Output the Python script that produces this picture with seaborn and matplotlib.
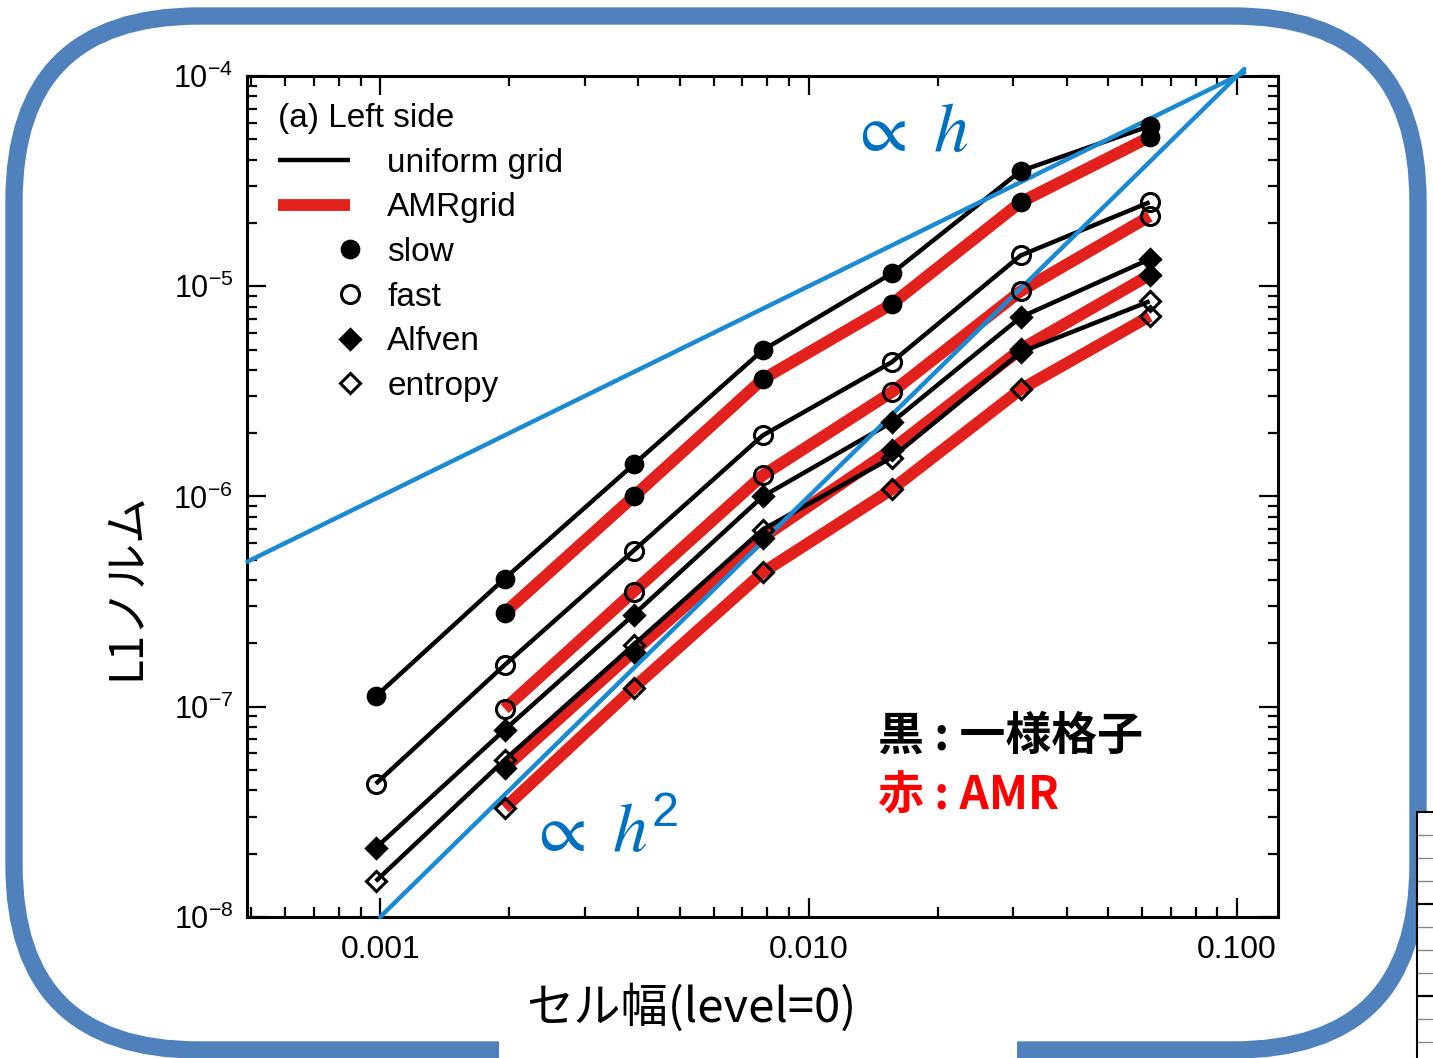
import numpy as np
import seaborn as sns
import matplotlib
matplotlib.use("Agg")
import matplotlib.pyplot as plt
from matplotlib.lines import Line2D
from matplotlib.legend_handler import HandlerLine2D
from matplotlib.patches import FancyBboxPatch, Rectangle
from matplotlib.transforms import IdentityTransform
from matplotlib.ticker import LogLocator, NullFormatter, LogFormatterSciNotation

# ---- data ---------------------------------------------------------------
# cell width of the level-0 grid
cell_width = [1/1024, 1/512, 1/256, 1/128, 1/64, 1/32, 1/16]
amr_width = cell_width[1:]

# L1 error norms, uniform grid
uniform_slow = [1.12e-7, 4.07e-7, 1.42e-6, 4.96e-6, 1.15e-5, 3.53e-5, 5.78e-5]
uniform_fast = [4.30e-8, 1.58e-7, 5.53e-7, 1.95e-6, 4.35e-6, 1.40e-5, 2.51e-5]
uniform_alfven = [2.13e-8, 7.77e-8, 2.74e-7, 1.00e-6, 2.25e-6, 7.12e-6, 1.345e-5]
uniform_entropy = [1.48e-8, 5.59e-8, 1.97e-7, 6.96e-7, 1.53e-6, 4.85e-6, 8.48e-6]

# L1 error norms, AMR grid
amr_slow = [2.80e-7, 1.00e-6, 3.61e-6, 8.21e-6, 2.51e-5, 5.12e-5]
amr_fast = [9.78e-8, 3.53e-7, 1.26e-6, 3.13e-6, 9.47e-6, 2.15e-5]
amr_alfven = [5.12e-8, 1.83e-7, 6.38e-7, 1.67e-6, 5.01e-6, 1.13e-5]
amr_entropy = [3.30e-8, 1.23e-7, 4.35e-7, 1.08e-6, 3.23e-6, 7.20e-6]

# guide lines: first and second order
guide_h_x = [4.9e-4, 0.104]
guide_h_y = [4.9e-7, 1.04e-4]
guide_h2_x = [1.0e-3, 0.104]
guide_h2_y = [1.0e-8, 1.08e-4]

x_tick_values = [0.001, 0.01, 0.1]
x_tick_labels = ["0.001", "0.010", "0.100"]

# ---- style --------------------------------------------------------------
sns.set_theme(style="ticks")
plt.rcParams["font.family"] = ["Liberation Sans", "Noto Sans CJK JP", "DejaVu Sans"]
plt.rcParams["mathtext.default"] = "regular"
plt.rcParams["axes.facecolor"] = "white"

BLACK = "#000000"
RED = "#e3211c"
BLUE = "#1a8bd3"
TEXT_BLUE = "#0070c0"
FRAME_BLUE = "#4f81bd"
CJK = ["Noto Sans CJK JP", "DejaVu Sans"]

LW_UNIFORM = 3.2
LW_AMR = 8.5
MEW = 2.2
MS_CIRCLE = 13
MS_DIAMOND = 10

fig = plt.figure(figsize=(14.33, 10.58), dpi=100)
fig.patch.set_facecolor("white")
ax = fig.add_axes([0.1724, 0.1333, 0.7194, 0.7949])
ax.set_xscale("log")
ax.set_yscale("log")

marker_spec = {
    "slow": ("o", True, MS_CIRCLE - 1),
    "fast": ("o", False, MS_CIRCLE),
    "alfven": ("D", True, MS_DIAMOND),
    "entropy": ("D", False, MS_DIAMOND),
}


def draw_series(x, y, kind, color, lw, zline):
    sns.lineplot(x=x, y=y, ax=ax, color=color, lw=lw, zorder=zline,
                 legend=False, errorbar=None, solid_capstyle="butt")
    marker, filled, ms = marker_spec[kind]
    sns.lineplot(x=x, y=y, ax=ax, color=BLACK, linestyle="none",
                 marker=marker, markersize=ms,
                 markerfacecolor=BLACK if filled else "none",
                 markeredgecolor=BLACK, markeredgewidth=MEW,
                 zorder=6, legend=False, errorbar=None)


# AMR runs (thick red) underneath the uniform runs (thin black)
draw_series(amr_width, amr_slow, "slow", RED, LW_AMR, 2)
draw_series(amr_width, amr_fast, "fast", RED, LW_AMR, 2)
draw_series(amr_width, amr_alfven, "alfven", RED, LW_AMR, 2)
draw_series(amr_width, amr_entropy, "entropy", RED, LW_AMR, 2)

draw_series(cell_width, uniform_slow, "slow", BLACK, LW_UNIFORM, 3)
draw_series(cell_width, uniform_fast, "fast", BLACK, LW_UNIFORM, 3)
draw_series(cell_width, uniform_alfven, "alfven", BLACK, LW_UNIFORM, 3)
draw_series(cell_width, uniform_entropy, "entropy", BLACK, LW_UNIFORM, 3)

# slope guides
for gx, gy in ((guide_h_x, guide_h_y), (guide_h2_x, guide_h2_y)):
    sns.lineplot(x=gx, y=gy, ax=ax, color=BLUE, lw=3.2, zorder=4,
                 legend=False, errorbar=None, clip_on=False)

ax.set_xlim(4.89e-4, 0.1246)
ax.set_ylim(1e-8, 1e-4)

# ---- axes frame and ticks ----------------------------------------------
for sp in ax.spines.values():
    sp.set_linewidth(2.2)
    sp.set_color(BLACK)
    sp.set_visible(True)

ax.set_xticks(x_tick_values, labels=x_tick_labels)
ax.xaxis.set_minor_locator(LogLocator(base=10, subs=np.arange(2, 10)))
ax.xaxis.set_minor_formatter(NullFormatter())
ax.yaxis.set_major_locator(LogLocator(base=10))
ax.yaxis.set_major_formatter(LogFormatterSciNotation())
ax.yaxis.set_minor_locator(LogLocator(base=10, subs=np.arange(2, 10)))
ax.yaxis.set_minor_formatter(NullFormatter())

ax.tick_params(which="both", direction="in", top=True, right=True,
               color=BLACK, width=1.6)
ax.tick_params(which="major", length=14)
ax.tick_params(which="minor", length=7)
ax.tick_params(axis="x", which="major", labelsize=23, pad=13, labelcolor=BLACK)
ax.tick_params(axis="y", which="major", labelsize=22, pad=10, labelcolor=BLACK)
ax.grid(False)

ax.set_xlabel("セル幅(level=0)", fontsize=34, family=CJK, color=BLACK)
ax.xaxis.set_label_coords(0.4306, -0.080)
ax.xaxis.label.set_va("top")
ax.set_ylabel("L1ノルム", fontsize=33, family=CJK, color=BLACK)
ax.yaxis.set_label_coords(-0.094, 0.393)

# ---- legend --------------------------------------------------------------
class RightEndMarker(HandlerLine2D):
    """Place a lone marker at the right end of the legend handle."""

    def create_artists(self, legend, orig_handle, xdescent, ydescent,
                       width, height, fontsize, trans):
        artists = super().create_artists(legend, orig_handle, xdescent,
                                         ydescent, width, height, fontsize,
                                         trans)
        for a in artists:
            a.set_xdata(np.asarray(a.get_xdata(), float) + width / 2)
        return artists


h_uniform = Line2D([], [], color=BLACK, lw=LW_UNIFORM, solid_capstyle="butt")
h_amr = Line2D([], [], color=RED, lw=LW_AMR, solid_capstyle="butt")
h_markers = []
for kind in ("slow", "fast", "alfven", "entropy"):
    marker, filled, ms = marker_spec[kind]
    h_markers.append(Line2D([], [], linestyle="none", marker=marker,
                            markersize=ms,
                            markerfacecolor=BLACK if filled else "none",
                            markeredgecolor=BLACK, markeredgewidth=MEW))

leg = ax.legend(
    [h_uniform, h_amr] + h_markers,
    ["uniform grid", "AMRgrid", "slow", "fast", "Alfven", "entropy"],
    handler_map={h: RightEndMarker() for h in h_markers},
    title="(a) Left side", title_fontsize=24, alignment="left",
    loc="upper left", bbox_to_anchor=(0.030, 0.968), borderaxespad=0,
    borderpad=0, frameon=False, fontsize=24, numpoints=1,
    handlelength=2.15, handletextpad=1.13, labelspacing=0.41,
)
for t in leg.get_texts():
    t.set_color(BLACK)
leg.get_title().set_color(BLACK)

# ---- annotations ---------------------------------------------------------
ax.text(0.584, 0.932, r"$\propto\ \mathit{h}$", transform=ax.transAxes,
        fontsize=50, color=TEXT_BLUE, ha="left", va="center",
        math_fontfamily="stix")
ax.text(0.273, 0.0985, r"$\propto\ \mathit{h}^{2}$", transform=ax.transAxes,
        fontsize=50, color=TEXT_BLUE, ha="left", va="center",
        math_fontfamily="stix")
ax.text(0.612, 0.214, "黒 : 一様格子", transform=ax.transAxes, fontsize=33,
        fontweight="bold", family=CJK, color=BLACK, ha="left", va="center")
ax.text(0.612, 0.1427, "赤 : AMR", transform=ax.transAxes, fontsize=33,
        fontweight="bold", family=CJK, color="#ff0000", ha="left",
        va="center")

# ---- slide frame around the chart ---------------------------------------
H = 1058
frame = FancyBboxPatch((14, H - 1050), 1404, 1034,
                       boxstyle="round,pad=0,rounding_size=185",
                       transform=IdentityTransform(), facecolor="none",
                       edgecolor=FRAME_BLUE, linewidth=12.5, zorder=0)
fig.add_artist(frame)
fig.add_artist(Rectangle((499, 0), 518, H - 1035, transform=IdentityTransform(),
                         facecolor="white", edgecolor="none", zorder=1))

# neighbouring table peeking in at the lower right
fig.add_artist(Rectangle((1417, -2), 30, H - 812 + 2,
                         transform=IdentityTransform(), facecolor="white",
                         edgecolor=BLACK, linewidth=1.5, zorder=2))
for i, yy in enumerate(range(835, 1058, 23)):
    heavy = i in (3, 7)
    fig.add_artist(Line2D([1418, 1433], [H - yy, H - yy],
                          transform=IdentityTransform(),
                          color=BLACK if heavy else "#888888",
                          lw=1.6 if heavy else 1.0, zorder=3))

fig.savefig("out.png", dpi=100, facecolor="white")
